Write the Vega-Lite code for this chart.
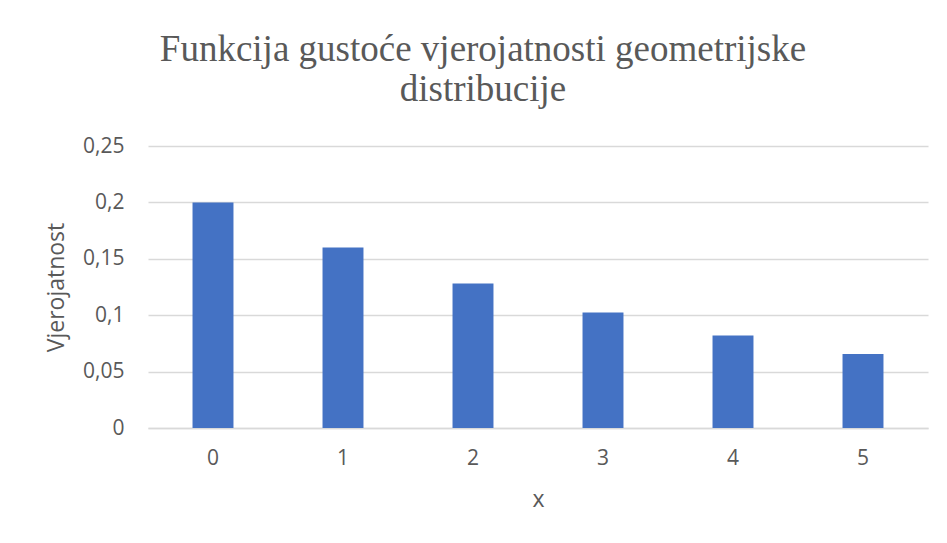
{
  "$schema": "https://vega.github.io/schema/vega-lite/v6.json",
  "width": 780,
  "height": 282,
  "autosize": "none",
  "padding": {"left": 148, "top": 146, "right": 19, "bottom": 115},
  "background": "white",
  "title": {
    "text": ["Funkcija gustoće vjerojatnosti geometrijske", "distribucije"],
    "font": "Liberation Serif",
    "fontSize": 37,
    "fontWeight": "normal",
    "color": "#595959",
    "anchor": "middle",
    "dx": -55,
    "lineHeight": 40,
    "offset": 26
  },
  "data": {
    "values": [
      {"x": "0", "p": 0.2},
      {"x": "1", "p": 0.16},
      {"x": "2", "p": 0.128},
      {"x": "3", "p": 0.1024},
      {"x": "4", "p": 0.08192},
      {"x": "5", "p": 0.065536}
    ]
  },
  "mark": {"type": "bar", "color": "#4472C4"},
  "encoding": {
    "x": {
      "field": "x",
      "type": "ordinal",
      "title": "x",
      "scale": {"paddingInner": 0.685, "paddingOuter": 0.3425},
      "axis": {
        "labelAngle": 0,
        "ticks": false,
        "domainColor": "#d9d9d9",
        "domainWidth": 1.5,
        "labelPadding": 19,
        "titlePadding": 20
      }
    },
    "y": {
      "field": "p",
      "type": "quantitative",
      "title": "Vjerojatnost",
      "scale": {"domain": [0, 0.25], "nice": false},
      "axis": {
        "values": [0, 0.05, 0.1, 0.15, 0.2, 0.25],
        "labelExpr": "replace(format(datum.value, '.2~f'), '.', ',')",
        "domain": false,
        "ticks": false,
        "grid": true,
        "gridColor": "#d9d9d9",
        "gridWidth": 1.5,
        "labelPadding": 24,
        "titlePadding": 14
      }
    }
  },
  "config": {
    "view": {"stroke": null},
    "axis": {
      "labelFont": "Open Sans",
      "labelFontSize": 21,
      "labelColor": "#595959",
      "titleFont": "Open Sans",
      "titleFontSize": 23,
      "titleFontWeight": "normal",
      "titleColor": "#595959"
    }
  }
}
